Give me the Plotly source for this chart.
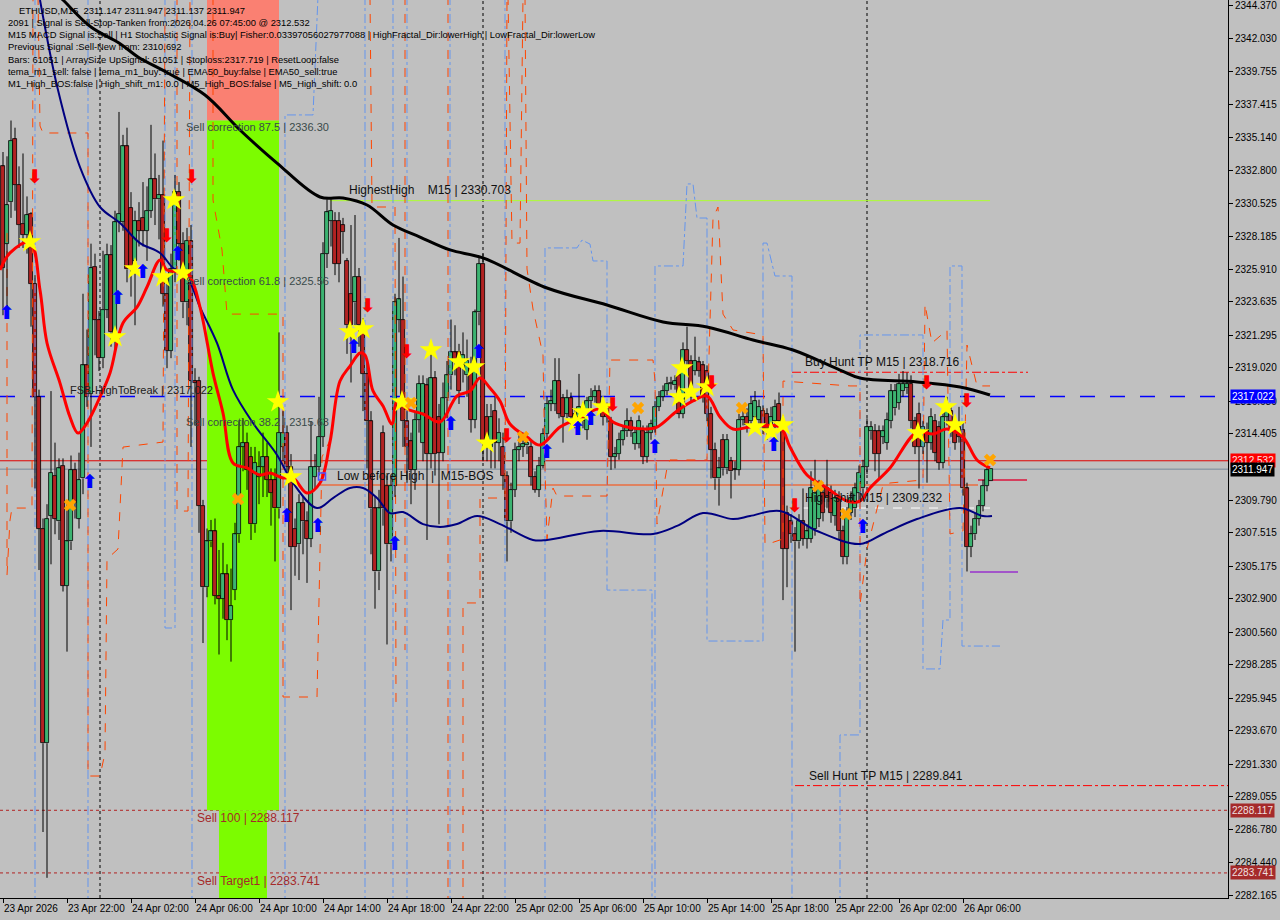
import plotly.graph_objects as go

BG = "#C0C0C0"
FONT = "Liberation Sans"

# ---------------- data ----------------
label_bars = [0, 16, 32, 48, 64, 80, 96, 112, 128, 144, 160, 176, 192, 208, 224, 240]
time_labels = ["23 Apr 2026", "23 Apr 22:00", "24 Apr 02:00", "24 Apr 06:00", "24 Apr 10:00",
               "24 Apr 14:00", "24 Apr 18:00", "24 Apr 22:00", "25 Apr 02:00", "25 Apr 06:00",
               "25 Apr 10:00", "25 Apr 14:00", "25 Apr 18:00", "25 Apr 22:00", "26 Apr 02:00",
               "26 Apr 06:00"]

price_ticks = [2344.370, 2342.030, 2339.755, 2337.415, 2335.140, 2332.800, 2330.525, 2328.185,
               2325.910, 2323.635, 2321.295, 2319.020, 2316.680, 2314.405, 2309.790,
               2307.515, 2305.175, 2302.900, 2300.560, 2298.285, 2295.945, 2293.670, 2291.330,
               2289.055, 2286.780, 2284.440, 2282.165]

opens = [2333.1, 2327.7, 2330.6, 2335.0, 2331.8, 2329.1, 2328.3, 2329.8, 2324.9, 2317.0,
         2307.8, 2292.8, 2308.7, 2311.5, 2308.3, 2312.2, 2303.8, 2306.9, 2311.9, 2308.5,
         2311.3, 2319.2, 2317.2, 2326.1, 2322.4, 2319.7, 2323.1, 2326.9, 2321.3, 2329.2,
         2329.2, 2334.5, 2330.2, 2326.5, 2329.3, 2329.5, 2328.6, 2330.0, 2332.2, 2330.8,
         2331.1, 2324.2, 2320.2, 2325.9, 2331.3, 2327.7, 2323.6, 2327.9, 2318.1, 2318.1,
         2309.4, 2303.7, 2306.9, 2307.6, 2303.1, 2302.9, 2304.6, 2301.4, 2303.5, 2307.4,
         2313.5, 2313.8, 2312.8, 2308.1, 2311.4, 2312.1, 2312.8, 2311.2, 2311.2, 2309.2,
         2313.5, 2314.5, 2312.1, 2307.8, 2306.7, 2309.6, 2308.3, 2307.1, 2311.4, 2312.1,
         2314.2, 2327.0, 2329.3, 2329.3, 2329.3, 2329.0, 2326.5, 2324.2, 2323.6, 2325.4,
         2322.0, 2318.6, 2315.3, 2309.2, 2304.8, 2314.5, 2310.8, 2306.7, 2310.8, 2322.4,
         2322.4, 2315.3, 2313.9, 2311.9, 2315.4, 2313.8, 2317.8, 2313.0, 2318.3, 2315.6,
         2313.1, 2316.9, 2318.5, 2320.1, 2320.1, 2319.2, 2318.5, 2319.2, 2315.4, 2322.9,
         2326.3, 2315.6, 2313.5, 2316.0, 2313.8, 2313.5, 2311.5, 2308.3, 2310.5, 2313.3,
         2313.5, 2313.6, 2313.5, 2311.4, 2310.5, 2312.2, 2314.4, 2316.5, 2316.5, 2318.1,
         2316.9, 2315.8, 2316.9, 2315.8, 2315.6, 2316.2, 2314.7, 2316.7, 2317.0, 2317.4,
         2316.5, 2315.6, 2315.3, 2312.8, 2313.0, 2314.0, 2314.6, 2315.3, 2313.7, 2313.7,
         2314.6, 2312.8, 2314.5, 2314.9, 2316.3, 2317.0, 2317.4, 2317.9, 2317.8, 2318.5,
         2315.8, 2320.3, 2319.5, 2318.8, 2319.4, 2319.2, 2318.8, 2315.8, 2313.3, 2311.3,
         2314.0, 2312.0, 2312.5, 2311.9, 2311.9, 2315.4, 2315.6, 2315.3, 2315.6, 2315.4,
         2316.0, 2315.8, 2314.7, 2315.3, 2316.5, 2315.3, 2308.9, 2308.3, 2307.4, 2306.9,
         2308.3, 2307.1, 2307.1, 2307.8, 2308.5, 2310.3, 2310.6, 2310.3, 2308.7, 2309.9,
         2307.6, 2305.8, 2308.9, 2309.2, 2310.3, 2310.6, 2312.1, 2314.6, 2314.6, 2314.6,
         2314.2, 2313.8, 2315.3, 2316.2, 2316.6, 2317.4, 2317.6, 2317.9, 2315.3, 2315.8,
         2313.5, 2314.7, 2313.8, 2315.3, 2314.9, 2312.4, 2315.6, 2316.0, 2314.9, 2314.9,
         2314.7, 2310.6, 2306.5, 2307.4, 2308.5, 2309.4, 2310.8, 2311.147]
highs = [2334.1, 2333.8, 2336.3, 2335.8, 2333.1, 2334.0, 2331.0, 2329.9, 2325.5, 2317.5,
         2308.5, 2309.5, 2317.4, 2313.8, 2312.7, 2312.7, 2309.5, 2312.9, 2312.4, 2313.1,
         2324.2, 2321.7, 2327.7, 2327.0, 2323.0, 2327.2, 2327.7, 2327.6, 2330.0, 2336.9,
         2335.3, 2335.8, 2331.3, 2330.0, 2330.6, 2332.0, 2331.7, 2336.0, 2334.0, 2332.5,
         2334.9, 2325.5, 2327.0, 2332.5, 2332.0, 2328.5, 2328.8, 2329.0, 2319.0, 2318.4,
         2309.8, 2307.8, 2308.4, 2308.5, 2306.3, 2306.8, 2305.3, 2305.0, 2308.2, 2315.3,
         2315.5, 2314.5, 2313.5, 2313.5, 2313.2, 2314.5, 2313.8, 2312.0, 2312.0, 2321.5,
         2316.0, 2315.0, 2313.0, 2308.5, 2310.2, 2310.0, 2309.0, 2315.3, 2313.0, 2317.0,
         2327.8, 2330.8, 2330.8, 2329.9, 2329.9, 2329.5, 2326.7, 2329.0, 2329.7, 2326.0,
         2322.5, 2319.5, 2316.0, 2310.0, 2310.5, 2315.0, 2311.5, 2311.5, 2324.2, 2328.1,
         2325.4, 2316.0, 2314.5, 2316.0, 2318.5, 2318.5, 2318.3, 2320.1, 2318.8, 2316.5,
         2318.0, 2319.5, 2322.4, 2322.0, 2320.7, 2321.5, 2321.0, 2319.8, 2323.1, 2326.7,
         2327.0, 2316.5, 2316.5, 2317.0, 2315.5, 2314.5, 2311.8, 2311.0, 2313.8, 2314.5,
         2314.5, 2314.3, 2314.0, 2311.8, 2312.8, 2314.8, 2317.0, 2317.5, 2319.7, 2319.7,
         2317.2, 2317.5, 2317.3, 2316.2, 2318.6, 2316.6, 2317.0, 2317.6, 2317.8, 2317.8,
         2317.0, 2316.6, 2315.6, 2313.5, 2314.5, 2315.0, 2316.2, 2315.6, 2314.9, 2315.7,
         2315.0, 2315.0, 2315.4, 2316.7, 2317.4, 2317.8, 2318.4, 2318.4, 2318.5, 2318.8,
         2320.8, 2321.9, 2319.9, 2321.2, 2319.8, 2319.5, 2319.2, 2316.3, 2313.8, 2312.8,
         2314.4, 2314.4, 2312.8, 2312.5, 2315.8, 2316.2, 2316.2, 2317.0, 2317.4, 2316.8,
         2316.4, 2316.2, 2316.3, 2316.8, 2317.3, 2315.6, 2309.4, 2308.8, 2307.9, 2308.8,
         2310.6, 2308.1, 2311.8, 2312.6, 2311.2, 2310.8, 2312.6, 2310.8, 2310.5, 2310.4,
         2308.0, 2309.3, 2310.4, 2311.0, 2312.2, 2312.6, 2315.5, 2315.3, 2315.1, 2315.0,
         2315.0, 2315.9, 2317.9, 2317.9, 2318.6, 2318.8, 2318.7, 2318.5, 2315.6, 2316.6,
         2315.3, 2315.2, 2316.2, 2315.8, 2315.3, 2316.2, 2317.0, 2316.5, 2315.3, 2316.3,
         2315.2, 2311.0, 2308.0, 2308.9, 2309.8, 2311.2, 2312.4, 2311.947]
lows = [2322.7, 2322.7, 2329.5, 2330.0, 2327.4, 2327.4, 2327.0, 2321.9, 2310.6, 2304.9,
        2286.6, 2283.4, 2305.3, 2307.4, 2307.0, 2303.4, 2299.2, 2306.3, 2308.5, 2307.8,
        2310.2, 2316.3, 2313.5, 2319.9, 2318.8, 2319.0, 2322.5, 2320.5, 2320.3, 2328.5,
        2328.6, 2325.0, 2324.0, 2322.0, 2327.5, 2327.5, 2326.5, 2329.5, 2329.0, 2328.0,
        2323.3, 2319.0, 2319.7, 2325.0, 2326.5, 2322.5, 2322.0, 2313.5, 2315.0, 2307.5,
        2299.8, 2303.0, 2306.5, 2302.5, 2299.0, 2301.5, 2300.0, 2298.5, 2302.8, 2306.8,
        2311.8, 2310.5, 2307.0, 2307.5, 2309.5, 2310.0, 2310.0, 2308.0, 2305.5, 2308.5,
        2312.5, 2311.0, 2302.1, 2304.5, 2304.2, 2306.0, 2304.0, 2306.5, 2310.5, 2311.5,
        2313.5, 2326.0, 2327.5, 2325.5, 2325.0, 2327.0, 2320.0, 2318.0, 2322.0, 2320.5,
        2316.0, 2312.0, 2306.0, 2302.2, 2303.5, 2308.0, 2299.7, 2305.5, 2310.0, 2321.5,
        2313.5, 2311.0, 2309.5, 2310.5, 2314.5, 2312.5, 2307.0, 2312.0, 2311.5, 2308.1,
        2312.5, 2315.5, 2317.5, 2318.5, 2316.5, 2318.0, 2317.0, 2314.5, 2314.8, 2322.0,
        2312.5, 2312.5, 2312.0, 2312.0, 2312.5, 2310.5, 2305.5, 2307.5, 2310.0, 2312.5,
        2312.8, 2313.0, 2310.8, 2310.3, 2310.0, 2312.0, 2314.0, 2316.0, 2316.0, 2315.5,
        2313.8, 2315.5, 2315.0, 2314.8, 2315.2, 2314.8, 2314.0, 2316.2, 2316.6, 2316.0,
        2315.0, 2315.2, 2311.9, 2312.0, 2312.6, 2313.6, 2314.2, 2314.2, 2313.3, 2313.4,
        2312.3, 2312.4, 2314.0, 2314.5, 2316.0, 2316.7, 2317.1, 2317.5, 2317.5, 2315.5,
        2315.5, 2319.2, 2316.6, 2318.5, 2318.4, 2316.6, 2315.3, 2311.3, 2310.5, 2309.4,
        2311.5, 2311.6, 2309.9, 2311.2, 2311.5, 2315.0, 2314.5, 2314.8, 2315.2, 2314.9,
        2314.4, 2314.0, 2314.3, 2314.8, 2314.8, 2302.8, 2303.7, 2306.8, 2299.2, 2306.4,
        2306.6, 2306.4, 2306.8, 2307.3, 2307.9, 2308.3, 2309.2, 2308.2, 2308.0, 2307.0,
        2305.3, 2305.3, 2308.4, 2308.6, 2309.7, 2310.0, 2311.6, 2314.0, 2311.8, 2311.3,
        2313.7, 2313.3, 2314.8, 2315.7, 2316.1, 2317.0, 2317.2, 2314.8, 2313.0, 2310.6,
        2313.0, 2311.0, 2313.3, 2312.5, 2311.9, 2312.0, 2315.0, 2314.2, 2313.3, 2313.8,
        2310.1, 2304.8, 2305.8, 2307.0, 2308.0, 2309.0, 2310.4, 2311.137]
closes = [2326.0, 2330.4, 2334.9, 2331.8, 2329.0, 2328.3, 2329.7, 2324.9, 2317.0, 2307.8,
          2292.8, 2308.5, 2311.7, 2308.5, 2312.0, 2303.8, 2306.9, 2311.9, 2309.6, 2311.2,
          2319.2, 2317.0, 2326.0, 2322.4, 2319.7, 2323.1, 2326.9, 2321.5, 2329.2, 2329.8,
          2334.5, 2325.9, 2325.9, 2329.3, 2328.6, 2328.6, 2330.0, 2332.2, 2330.8, 2331.1,
          2324.2, 2320.2, 2325.9, 2331.3, 2327.7, 2323.6, 2327.9, 2318.1, 2318.0, 2309.4,
          2303.7, 2306.9, 2307.6, 2303.1, 2302.9, 2304.6, 2301.4, 2302.4, 2307.4, 2313.5,
          2313.8, 2311.9, 2308.1, 2312.4, 2312.1, 2312.8, 2311.2, 2310.3, 2309.2, 2314.5,
          2314.5, 2312.1, 2306.5, 2306.5, 2309.6, 2308.3, 2307.1, 2312.1, 2312.1, 2314.2,
          2327.0, 2329.9, 2330.0, 2326.3, 2326.3, 2328.5, 2322.0, 2322.0, 2325.4, 2322.0,
          2318.6, 2315.3, 2309.2, 2304.8, 2309.2, 2309.2, 2306.7, 2310.8, 2323.6, 2323.8,
          2315.3, 2313.5, 2311.9, 2315.4, 2317.9, 2317.9, 2313.0, 2318.3, 2313.0, 2313.1,
          2316.9, 2318.5, 2320.1, 2319.5, 2317.4, 2319.9, 2319.5, 2315.4, 2322.9, 2326.3,
          2313.8, 2313.8, 2315.6, 2313.8, 2314.5, 2311.5, 2308.3, 2310.5, 2313.3, 2313.5,
          2313.7, 2313.8, 2311.4, 2310.5, 2312.2, 2314.4, 2316.5, 2316.7, 2318.1, 2315.8,
          2315.6, 2316.9, 2315.6, 2315.3, 2316.3, 2315.3, 2316.7, 2317.0, 2317.4, 2316.5,
          2315.6, 2316.2, 2312.8, 2313.0, 2314.0, 2314.6, 2315.3, 2314.6, 2314.5, 2315.3,
          2312.8, 2314.5, 2315.1, 2316.3, 2317.0, 2317.4, 2317.9, 2318.0, 2318.1, 2315.8,
          2320.3, 2319.5, 2317.0, 2319.5, 2318.8, 2317.0, 2315.8, 2313.3, 2311.3, 2312.0,
          2312.0, 2314.0, 2311.8, 2311.9, 2315.4, 2315.6, 2315.0, 2316.5, 2316.7, 2316.3,
          2314.9, 2314.7, 2315.6, 2316.3, 2315.3, 2306.4, 2306.4, 2307.4, 2306.9, 2308.3,
          2307.1, 2307.6, 2310.6, 2310.3, 2310.6, 2308.9, 2309.9, 2308.9, 2309.9, 2307.6,
          2305.8, 2308.9, 2309.9, 2310.6, 2311.7, 2312.1, 2314.9, 2314.9, 2313.0, 2313.0,
          2314.6, 2315.4, 2317.4, 2317.4, 2317.9, 2317.9, 2317.9, 2315.3, 2313.5, 2313.5,
          2314.9, 2313.8, 2315.6, 2313.1, 2312.4, 2315.6, 2316.3, 2314.7, 2313.8, 2314.2,
          2310.6, 2306.5, 2307.4, 2308.5, 2309.4, 2310.8, 2311.9, 2311.947]
bars = list(range(len(opens)))

# moving averages (key points: bar index, price)
ma_slow_bar = [11.75, 15, 22, 29, 33.75, 40.75, 50.5, 59.25, 68.5, 79.25, 85, 91, 97.5, 104.25,
               111.75, 120, 136, 151, 165, 176, 187.5, 197.5, 209.25, 214.25, 228.5, 239.25, 246.75]
ma_slow_val = [2345.6, 2344.72, 2342.83, 2341.72, 2340.74, 2339.69, 2338.08, 2335.64, 2333.33,
               2330.96, 2330.89, 2330.40, 2329.00, 2328.16, 2327.26, 2326.70, 2324.60, 2323.41,
               2322.23, 2321.88, 2320.97, 2320.27, 2318.87, 2318.31, 2318.04, 2317.69, 2317.13]

ma_mid_bar = [9.25, 13.75, 19.25, 24.25, 29.25, 34.25, 39.25, 42.5, 46, 49.25, 53.5, 57.5, 62.5,
              68.5, 72.5, 78.5, 82.5, 86.75, 90, 93.5, 96.75, 100, 105, 109.25, 113.5, 118.5,
              124.25, 132.5, 136, 149.25, 162.5, 168.5, 175, 182.5, 186.75, 194.25, 203.5,
              214.25, 220, 228.5, 239.25, 245, 247.25]
ma_mid_val = [2344.72, 2338.43, 2333.05, 2330.26, 2329.14, 2327.74, 2327.05, 2326.00, 2325.37,
              2323.27, 2320.76, 2317.48, 2315.17, 2312.94, 2310.98, 2309.23, 2309.93, 2310.63,
              2310.63, 2309.93, 2308.88, 2308.95, 2308.11, 2307.91, 2308.11, 2308.67, 2308.11,
              2307.00, 2307.00, 2307.63, 2307.42, 2307.98, 2308.88, 2308.46, 2308.67, 2309.02,
              2307.63, 2306.72, 2307.42, 2308.46, 2309.23, 2308.67, 2308.67]

ma_fast_bar = [-0.75, 1.75, 6.75, 9.25, 11, 14.25, 16.75, 18.75, 21, 24.25, 26.75, 30, 33.5, 36,
               39.25, 41, 44.25, 46.75, 49.25, 52.5, 55, 57.5, 61, 64.25, 66.75, 70, 72.5, 76,
               79.25, 81.75, 84.25, 86.75, 89.25, 90.5, 92.5, 95, 97.25, 98.5, 101, 105, 109.25,
               113.5, 116.75, 119.25, 121.75, 124.25, 126.75, 131, 134.25, 139.25, 143.5, 149.25,
               152.5, 156, 161, 163.5, 168.5, 172.5, 176, 179.25, 182.5, 186.75, 194.25, 196.75,
               201, 206, 211, 214.25, 216.75, 221.75, 228.5, 232.5, 236, 240, 243.5, 246.75]
ma_fast_val = [2325.86, 2327.05, 2327.81, 2324.46, 2320.76, 2317.96, 2315.59, 2314.47, 2315.17,
               2316.99, 2318.66, 2322.16, 2323.27, 2324.67, 2326.56, 2325.86, 2325.72, 2325.37,
               2323.27, 2318.66, 2315.87, 2312.38, 2312.03, 2311.54, 2311.68, 2311.33, 2311.33,
               2310.28, 2310.98, 2313.84, 2318.10, 2319.15, 2320.06, 2319.92, 2317.41, 2316.36,
               2315.10, 2316.71, 2316.15, 2315.80, 2315.24, 2317.06, 2317.41, 2318.31, 2317.62,
               2316.71, 2315.10, 2314.19, 2313.63, 2314.89, 2315.45, 2316.15, 2315.24, 2314.89,
               2314.75, 2314.89, 2316.01, 2316.71, 2317.06, 2315.59, 2314.75, 2314.89, 2314.89,
               2313.49, 2311.54, 2310.63, 2309.72, 2309.72, 2310.63, 2312.03, 2314.54, 2314.40,
               2314.75, 2314.19, 2312.59, 2312.03]

# signal markers
star_bar = [6.75, 28, 33, 40, 42.75, 45, 68.75, 72, 86.75, 90, 99.75, 107, 114, 117.75, 121,
            143, 145, 150, 169, 169.75, 172, 176, 188, 192, 195, 228.75, 235.75, 238]
star_val = [2327.82, 2321.18, 2325.93, 2325.37, 2330.75, 2325.65, 2316.64, 2311.40, 2321.53,
            2321.74, 2316.64, 2320.27, 2319.43, 2319.08, 2313.77, 2315.24, 2315.94, 2316.29,
            2316.99, 2319.01, 2317.34, 2317.69, 2314.89, 2314.54, 2315.03, 2314.47, 2316.29,
            2315.03]
buy_bar = [1, 21.75, 28.75, 35, 43.75, 71, 78.75, 87.75, 98, 112, 119, 136, 143.75, 147, 163,
           192.75, 215]
buy_val = [2322.78, 2310.98, 2323.83, 2325.65, 2326.91, 2308.60, 2307.91, 2320.41, 2306.65,
           2315.03, 2320.06, 2313.07, 2314.68, 2315.38, 2313.42, 2313.56, 2307.84]
sell_bar = [8, 41, 47.25, 91.25, 101, 126, 152.5, 177.25, 198, 231, 241]
sell_val = [2332.29, 2328.16, 2332.29, 2323.27, 2320.06, 2314.19, 2316.36, 2317.89, 2309.30,
            2317.89, 2316.64]
cross_bar = [16.75, 58.75, 102, 130, 158.75, 184.75, 203.75, 210.75, 246.75]
cross_val = [2309.44, 2309.86, 2316.57, 2314.19, 2316.22, 2316.22, 2310.77, 2308.81, 2312.59]

# channel step lines (bar, price)
blue_vertical_bars = [8, 21.25, 47.25, 90.5, 97.5, 101, 111.75, 125.5]
bstep_a_x = [40.5, 40.5, 43, 43]
bstep_a_y = [2345, 2300.85, 2300.85, 2345]
bstep_b_x = [70.5, 70.5, 77.5, 78.75]
bstep_b_y = [2281.5, 2336.69, 2336.69, 2345]
bstep_c_x = [135.5, 135.5, 143.5, 144.75, 146.75, 147.5, 151, 151, 162.25, 162.25]
bstep_c_y = [2281.5, 2327.40, 2327.40, 2327.95, 2327.67, 2326.49, 2326.49, 2303.50, 2303.50, 2281.5]
bstep_d_x = [163, 163, 170, 171, 172.5, 173.5, 176, 176, 190, 190, 191, 192.25, 193, 197.25, 197.25]
bstep_d_y = [2281.5, 2326.14, 2326.14, 2331.87, 2331.87, 2329.49, 2329.49, 2299.94, 2299.94,
             2327.74, 2327.74, 2326.42, 2325.44, 2325.44, 2281.5]
bstep_e_x = [209.25, 209.25, 214.25, 214.25, 230, 230, 234.25, 235, 236.75, 236.75, 239.75,
             239.75, 249.25]
bstep_e_y = [2281.5, 2293.38, 2293.38, 2321.32, 2321.32, 2297.99, 2297.99, 2301.41, 2301.41,
             2326.14, 2326.14, 2299.59, 2299.59]

ostep_a_x = [1, 1, 1.75, 2.25, 7.25, 7.5]
ostep_a_y = [2328.44, 2304.55, 2308.39, 2309.23, 2309.23, 2345]
ostep_b_x = [8.75, 9.25, 10, 21.25, 21.25, 24.25, 25.5, 26, 28.75, 30, 40, 40.5]
ostep_b_y = [2345, 2335.92, 2335.43, 2335.43, 2290.51, 2290.51, 2292.12, 2305.67, 2306.37,
             2313.49, 2313.84, 2345]
ostep_c_x = [43.5, 43.5, 46.25, 46.75]
ostep_c_y = [2345, 2309.02, 2309.02, 2345]
ostep_d_x = [52.5, 52.5, 54.75, 56, 70, 70, 78.5, 79.75, 81.75]
ostep_d_y = [2345, 2330.75, 2327.26, 2322.78, 2322.78, 2296.03, 2296.03, 2312.80, 2313.98]
ostep_e_x = [91.75, 92.25, 98, 98.25]
ostep_e_y = [2345, 2330.26, 2330.26, 2295.33]
ostep_f_x = [100.5, 100.5]
ostep_f_y = [2345, 2299.31]
ostep_g_x = [111.25, 111.25]
ostep_g_y = [2345, 2281.5]
ostep_h_x = [115, 115, 119.25, 119.25, 125.5, 126]
ostep_h_y = [2281.5, 2302.60, 2302.60, 2309.93, 2309.93, 2345]
ostep_i_x = [126.25, 127.25, 129.25, 130]
ostep_i_y = [2345, 2327.74, 2327.74, 2345]
ostep_j_x = [130.5, 131, 132.5, 135, 135.5, 136, 137.5, 138.5, 151, 151.75, 162.5, 163, 163.5,
             166, 166.75, 176, 176.25, 177.5, 178.75, 180, 182.5, 190, 190.5, 191.25, 195, 195,
             211.75, 214.25, 214.25, 216, 220, 221.75, 230, 230.5, 232.25, 236, 236.75, 240, 241,
             243.5, 246.75]
ostep_j_y = [2345, 2325.93, 2323.13, 2319.92, 2312.03, 2307.07, 2310.63, 2310.07, 2310.07,
             2319.57, 2319.57, 2318.10, 2308.11, 2312.03, 2312.59, 2312.59, 2317.41, 2329.49,
             2330.26, 2322.78, 2321.67, 2321.32, 2306.72, 2306.72, 2307.07, 2318.10, 2317.76,
             2317.76, 2302.46, 2306.37, 2310.84, 2310.98, 2311.19, 2323.48, 2320.76, 2321.67,
             2307.42, 2307.63, 2320.62, 2317.76, 2317.76]

# levels
fsb_level = 2317.022
signal_level = 2312.532
bid_level = 2311.947
sell100_level = 2288.117
target1_level = 2283.741
highest_high = 2330.703
low_before_high = 2310.84
buy_hunt_tp = 2318.716
high_shift = 2309.232
sell_hunt_tp = 2289.841
short_red_level = 2311.19
purple_level = 2304.76
corr_875 = 2336.30
day_sep_bars = [24.25, 120, 216]
zone_bars = [51, 69, 54, 66]

info_lines = [
    "ETHUSD,M15  2311.147 2311.947 2311.137 2311.947",
    "2091 | Signal is Sell-Stop-Tanken from:2026.04.26 07:45:00 @ 2312.532",
    "M15 MACD Signal is:Sell | H1 Stochastic Signal is:Buy| Fisher:0.03397056027977088 | HighFractal_Dir:lowerHigh | LowFractal_Dir:lowerLow",
    "Previous Signal :Sell-New from: 2310.692",
    "Bars: 61051 | ArraySize UpSignal: 61051 | Stoploss:2317.719 | ResetLoop:false",
    "tema_m1_sell: false | tema_m1_buy: true | EMA50_buy:false | EMA50_sell:true",
    "M1_High_BOS:false | High_shift_m1: 0.0 | M5_High_BOS:false | M5_High_shift: 0.0",
]

# ---------------- figure ----------------
XMIN, XMAX = -0.75, 306.25
YMIN, YMAX = 2281.99, 2344.72
PLOT_H = 898

fig = go.Figure()

def add_line(x, y, color, dash, width=1):
    fig.add_trace(go.Scatter(x=x, y=y, mode="lines", hoverinfo="skip", showlegend=False,
                             line=dict(color=color, width=width, dash=dash)))

# candle bodies (bars)
body_base = [min(o, c) for o, c in zip(opens, closes)]
body_len = [max(abs(c - o), 0.08) for o, c in zip(opens, closes)]
body_col = ["#3CB371" if c >= o else "#B22222" for o, c in zip(opens, closes)]
fig.add_trace(go.Bar(x=bars, y=body_len, base=body_base, width=0.82,
                     marker=dict(color=body_col, line=dict(color="black", width=0.8)),
                     showlegend=False, hoverinfo="skip"))

for b in blue_vertical_bars:
    add_line([b, b], [2345, 2281.5], "#6495ED", "dashdot")
for bx, by in [(bstep_a_x, bstep_a_y), (bstep_b_x, bstep_b_y), (bstep_c_x, bstep_c_y),
               (bstep_d_x, bstep_d_y), (bstep_e_x, bstep_e_y)]:
    add_line(bx, by, "#6495ED", "dashdot")
for ox, oy in [(ostep_a_x, ostep_a_y), (ostep_b_x, ostep_b_y), (ostep_c_x, ostep_c_y),
               (ostep_d_x, ostep_d_y), (ostep_e_x, ostep_e_y), (ostep_f_x, ostep_f_y),
               (ostep_g_x, ostep_g_y), (ostep_h_x, ostep_h_y), (ostep_i_x, ostep_i_y),
               (ostep_j_x, ostep_j_y)]:
    add_line(ox, oy, "#FF4500", "dash")

# candle wicks (above and below the body only)
wick_x, wick_y = [], []
for i, o, h, l, c in zip(bars, opens, highs, lows, closes):
    top, bot = max(o, c), min(o, c)
    wick_x += [i, i, None, i, i, None]
    wick_y += [h, top, None, bot, l, None]
fig.add_trace(go.Scatter(x=wick_x, y=wick_y, mode="lines", line=dict(color="black", width=1),
                         showlegend=False, hoverinfo="skip"))

fig.add_trace(go.Scatter(x=ma_slow_bar, y=ma_slow_val, mode="lines", line=dict(color="black", width=3, shape="spline"),
                         showlegend=False, hoverinfo="skip"))
fig.add_trace(go.Scatter(x=ma_mid_bar, y=ma_mid_val, mode="lines", line=dict(color="#000080", width=2, shape="spline"),
                         showlegend=False, hoverinfo="skip"))
fig.add_trace(go.Scatter(x=ma_fast_bar, y=ma_fast_val, mode="lines", line=dict(color="#FF0000", width=3, shape="spline"),
                         showlegend=False, hoverinfo="skip"))

fig.add_trace(go.Scatter(x=star_bar, y=star_val, mode="markers", showlegend=False, hoverinfo="skip",
                         marker=dict(symbol="star", size=17, color="#FFFF00", line=dict(width=0))))
fig.add_trace(go.Scatter(x=cross_bar, y=cross_val, mode="markers", showlegend=False, hoverinfo="skip",
                         marker=dict(symbol="x", size=11, color="#FFA500", line=dict(width=0))))
fig.add_trace(go.Scatter(x=buy_bar, y=buy_val, mode="text", text=["<b>\u2b06</b>"] * len(buy_bar), showlegend=False,
                         hoverinfo="skip", textfont=dict(family="DejaVu Sans", size=19, color="#0000FF")))
fig.add_trace(go.Scatter(x=sell_bar, y=sell_val, mode="text", text=["<b>\u2b07</b>"] * len(sell_bar), showlegend=False,
                         hoverinfo="skip", textfont=dict(family="DejaVu Sans", size=19, color="#FF0000")))
fig.add_trace(go.Scatter(x=[79.75], y=[low_before_high + 0.6], mode="markers", showlegend=False, hoverinfo="skip",
                         marker=dict(symbol="square-open", size=7, color="#5050FF", line=dict(width=1.5))))

shapes = []
z0, z1, z2, z3 = zone_bars
shapes.append(dict(type="rect", xref="x", yref="y", x0=z0, x1=z1, y0=corr_875, y1=2346,
                   fillcolor="#FA8072", line=dict(width=0), layer="below"))
shapes.append(dict(type="rect", xref="x", yref="y", x0=z0, x1=z1, y0=sell100_level, y1=corr_875,
                   fillcolor="#7CFC00", line=dict(width=0), layer="below"))
shapes.append(dict(type="rect", xref="x", yref="y", x0=z2, x1=z3, y0=2280, y1=sell100_level,
                   fillcolor="#7CFC00", line=dict(width=0), layer="below"))
for b in day_sep_bars:
    shapes.append(dict(type="line", xref="x", yref="paper", x0=b, x1=b, y0=0, y1=1,
                       line=dict(color="black", width=1, dash="dot"), layer="below"))

def hline(level, x0, x1, color, dash, width=1, xref="x"):
    shapes.append(dict(type="line", xref=xref, yref="y", x0=x0, x1=x1, y0=level, y1=level,
                       line=dict(color=color, width=width, dash=dash), layer="below"))

hline(fsb_level, 0, 1, "#0000FF", "longdash", 1.3, "paper")
hline(signal_level, 0, 1, "#E00000", "solid", 1, "paper")
hline(bid_level, 0, 1, "#778899", "solid", 1, "paper")
hline(sell100_level, 0, 1, "#B22222", "dot", 1, "paper")
hline(target1_level, 0, 1, "#B22222", "dot", 1, "paper")
hline(highest_high, 81.75, 246.75, "#ADFF2F", "solid", 1)
hline(low_before_high, 79.25, 243.75, "#FF4500", "solid", 1)
hline(buy_hunt_tp, 197.25, 256.25, "#FF0000", "dashdot", 1)
hline(high_shift, 200, 246.75, "#FFFFFF", "dash", 1)
hline(sell_hunt_tp, 198, XMAX, "#FF0000", "dashdot", 1)
hline(short_red_level, 243.75, 256, "#DC143C", "solid", 1.5)
hline(purple_level, 241.75, 253.75, "#9932CC", "solid", 1.5)

annotations = []

def ptxt(text, bx, price, size=12, color="#202020"):
    annotations.append(dict(x=bx, y=price, xref="x", yref="y", text=text, showarrow=False,
                            xanchor="left", yanchor="middle",
                            font=dict(family=FONT, size=size, color=color)))

ptxt("Sell correction 87.5 | 2336.30", 45.25, 2335.85, 11, "#3A4A4A")
ptxt("Sell correction 61.8 | 2325.56", 45.25, 2325.09, 11, "#3A4A4A")
ptxt("Sell correction 38.2 | 2315.63", 45.25, 2315.24, 11, "#3A4A4A")
ptxt("FSB-HighToBreak | 2317.022", 16.25, 2317.48, 11, "#202020")
ptxt("HighestHigh&nbsp;&nbsp;&nbsp;&nbsp;M15 | 2330.703", 86, 2331.45, 12, "#101010")
ptxt("Low before High&nbsp;&nbsp;|&nbsp;&nbsp;M15-BOS", 83, 2311.47, 12, "#101010")
ptxt("Buy Hunt TP M15 | 2318.716", 200, 2319.43, 12, "#101010")
ptxt("High-shift M15 | 2309.232", 200, 2309.93, 12, "#101010")
ptxt("Sell Hunt TP M15 | 2289.841", 201, 2290.51, 12, "#101010")
ptxt("Sell 100 | 2288.117", 48, 2287.58, 12, "#A52A2A")
ptxt("Sell Target1 | 2283.741", 48, 2283.18, 12, "#A52A2A")

for k, line in enumerate(info_lines):
    ypx = 10 + 12.3 * k
    annotations.append(dict(x=0, y=1 - ypx / PLOT_H, xref="paper", yref="paper", text=line,
                            showarrow=False, xanchor="left", yanchor="middle",
                            xshift=(17 if k == 0 else 6),
                            font=dict(family=FONT, size=9.4, color="black")))

for b, t in zip(label_bars, time_labels):
    annotations.append(dict(x=b, y=0, xref="x", yref="paper", text=t, showarrow=False,
                            xanchor="left", yanchor="top", xshift=-1, yshift=-3,
                            font=dict(family=FONT, size=10, color="black")))

for lvl, bg, fg in [(fsb_level, "#0000FF", "white"), (signal_level, "#FF0000", "#FFE0E0"),
                    (bid_level, "#000000", "white"), (sell100_level, "#A52A2A", "#F0E0E0"),
                    (target1_level, "#A52A2A", "#F0E0E0")]:
    annotations.append(dict(x=1, y=lvl, xref="paper", yref="y", text=f"{lvl:.3f}", showarrow=False,
                            xanchor="left", yanchor="middle", xshift=2, bgcolor=bg, borderpad=1,
                            font=dict(family=FONT, size=10, color=fg)))

fig.update_layout(
    width=1280, height=920,
    margin=dict(l=0, r=52, t=0, b=22, autoexpand=False),
    paper_bgcolor=BG, plot_bgcolor=BG,
    shapes=shapes, annotations=annotations,
    showlegend=False, barmode="overlay", bargap=0,
    xaxis=dict(range=[XMIN, XMAX], rangeslider=dict(visible=False), showgrid=False, zeroline=False,
               tickvals=label_bars, ticktext=[""] * len(label_bars), ticks="outside", ticklen=4,
               tickcolor="black", showline=True, linecolor="black", mirror=True, fixedrange=True,
               automargin=False),
    yaxis=dict(range=[YMIN, YMAX], side="right", showgrid=False, zeroline=False,
               tickvals=price_ticks, ticktext=[f"{v:.3f}" for v in price_ticks],
               ticks="outside", ticklen=4, tickcolor="black", showline=True, linecolor="black",
               mirror=True, tickfont=dict(family=FONT, size=10, color="black"), fixedrange=True,
               automargin=False, ticklabeloverflow="allow"),
)

fig.write_html("out.html", config={"displayModeBar": False},
               post_script="document.body.style.margin='0px';document.body.style.padding='0px';"
                           "document.body.style.background='#C0C0C0';")
